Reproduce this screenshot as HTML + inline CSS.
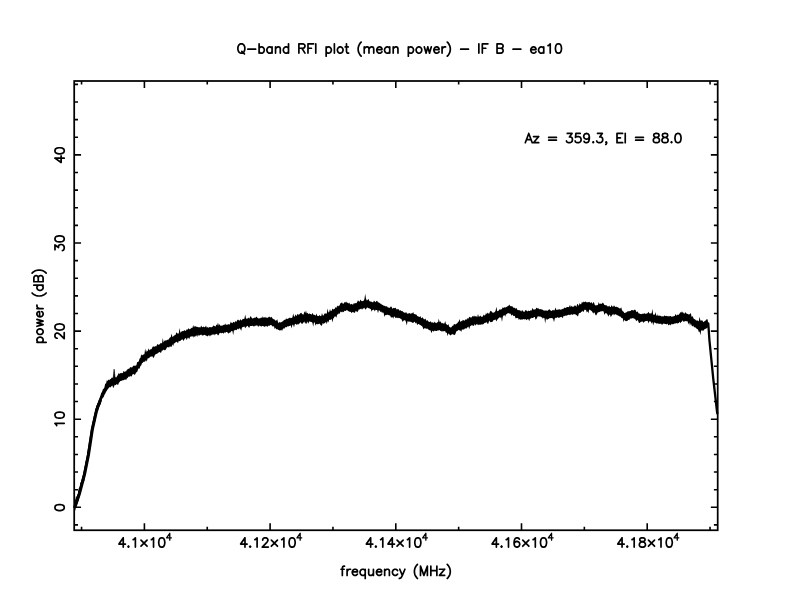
<!DOCTYPE html>
<html><head><meta charset="utf-8"><style>
html,body{margin:0;padding:0;background:#fff;}
svg{display:block;}
</style></head><body>
<svg width="792" height="612" viewBox="0 0 792 612">
<rect width="792" height="612" fill="#fff"/>
<g fill="none" stroke="#000" stroke-width="1.7" stroke-linecap="round" stroke-linejoin="round">
<path transform="translate(236.60,53.10) scale(1,1.0171)" d="M3.89 -9.08 3.03 -8.65 2.16 -7.79 1.73 -6.92 1.30 -5.62 1.30 -3.46 1.73 -2.16 2.16 -1.30 3.03 -0.43 3.89 0.00 5.62 0.00 6.49 -0.43 7.35 -1.30 7.79 -2.16 8.22 -3.46 8.22 -5.62 7.79 -6.92 7.35 -7.79 6.49 -8.65 5.62 -9.08 3.89 -9.08M5.19 -1.73 7.79 0.87M11.25 -3.89 19.03 -3.89M22.50 -9.08 22.50 0.00M22.50 -4.76 23.36 -5.62 24.23 -6.06 25.52 -6.06 26.39 -5.62 27.25 -4.76 27.69 -3.46 27.69 -2.60 27.25 -1.30 26.39 -0.43 25.52 0.00 24.23 0.00 23.36 -0.43 22.50 -1.30M35.47 -6.06 35.47 0.00M35.47 -4.76 34.61 -5.62 33.74 -6.06 32.45 -6.06 31.58 -5.62 30.71 -4.76 30.28 -3.46 30.28 -2.60 30.71 -1.30 31.58 -0.43 32.45 0.00 33.74 0.00 34.61 -0.43 35.47 -1.30M38.93 -6.06 38.93 0.00M38.93 -4.33 40.23 -5.62 41.10 -6.06 42.39 -6.06 43.26 -5.62 43.69 -4.33 43.69 0.00M51.91 -9.08 51.91 0.00M51.91 -4.76 51.05 -5.62 50.18 -6.06 48.88 -6.06 48.02 -5.62 47.15 -4.76 46.72 -3.46 46.72 -2.60 47.15 -1.30 48.02 -0.43 48.88 0.00 50.18 0.00 51.05 -0.43 51.91 -1.30M62.29 -9.08 62.29 0.00M62.29 -9.08 66.19 -9.08 67.49 -8.65 67.92 -8.22 68.35 -7.35 68.35 -6.49 67.92 -5.62 67.49 -5.19 66.19 -4.76 62.29 -4.76M65.32 -4.76 68.35 0.00M71.38 -9.08 71.38 0.00M71.38 -9.08 77.00 -9.08M71.38 -4.76 74.84 -4.76M79.17 -9.08 79.17 0.00M89.55 -6.06 89.55 3.03M89.55 -4.76 90.41 -5.62 91.28 -6.06 92.58 -6.06 93.44 -5.62 94.31 -4.76 94.74 -3.46 94.74 -2.60 94.31 -1.30 93.44 -0.43 92.58 0.00 91.28 0.00 90.41 -0.43 89.55 -1.30M97.77 -9.08 97.77 0.00M102.96 -6.06 102.09 -5.62 101.23 -4.76 100.80 -3.46 100.80 -2.60 101.23 -1.30 102.09 -0.43 102.96 0.00 104.26 0.00 105.12 -0.43 105.99 -1.30 106.42 -2.60 106.42 -3.46 105.99 -4.76 105.12 -5.62 104.26 -6.06 102.96 -6.06M109.88 -9.08 109.88 -1.73 110.31 -0.43 111.18 0.00 112.04 0.00M108.58 -6.06 111.61 -6.06M124.59 -10.81 123.72 -9.95 122.86 -8.65 121.99 -6.92 121.56 -4.76 121.56 -3.03 121.99 -0.87 122.86 0.87 123.72 2.16 124.59 3.03M127.62 -6.06 127.62 0.00M127.62 -4.33 128.91 -5.62 129.78 -6.06 131.08 -6.06 131.94 -5.62 132.38 -4.33 132.38 0.00M132.38 -4.33 133.67 -5.62 134.54 -6.06 135.84 -6.06 136.70 -5.62 137.13 -4.33 137.13 0.00M140.16 -3.46 145.35 -3.46 145.35 -4.33 144.92 -5.19 144.49 -5.62 143.62 -6.06 142.33 -6.06 141.46 -5.62 140.59 -4.76 140.16 -3.46 140.16 -2.60 140.59 -1.30 141.46 -0.43 142.33 0.00 143.62 0.00 144.49 -0.43 145.35 -1.30M153.14 -6.06 153.14 0.00M153.14 -4.76 152.28 -5.62 151.41 -6.06 150.11 -6.06 149.25 -5.62 148.38 -4.76 147.95 -3.46 147.95 -2.60 148.38 -1.30 149.25 -0.43 150.11 0.00 151.41 0.00 152.28 -0.43 153.14 -1.30M156.60 -6.06 156.60 0.00M156.60 -4.33 157.90 -5.62 158.76 -6.06 160.06 -6.06 160.93 -5.62 161.36 -4.33 161.36 0.00M171.74 -6.06 171.74 3.03M171.74 -4.76 172.61 -5.62 173.47 -6.06 174.77 -6.06 175.64 -5.62 176.50 -4.76 176.93 -3.46 176.93 -2.60 176.50 -1.30 175.64 -0.43 174.77 0.00 173.47 0.00 172.61 -0.43 171.74 -1.30M181.69 -6.06 180.83 -5.62 179.96 -4.76 179.53 -3.46 179.53 -2.60 179.96 -1.30 180.83 -0.43 181.69 0.00 182.99 0.00 183.85 -0.43 184.72 -1.30 185.15 -2.60 185.15 -3.46 184.72 -4.76 183.85 -5.62 182.99 -6.06 181.69 -6.06M187.75 -6.06 189.48 0.00M191.21 -6.06 189.48 0.00M191.21 -6.06 192.94 0.00M194.67 -6.06 192.94 0.00M197.27 -3.46 202.46 -3.46 202.46 -4.33 202.02 -5.19 201.59 -5.62 200.73 -6.06 199.43 -6.06 198.56 -5.62 197.70 -4.76 197.27 -3.46 197.27 -2.60 197.70 -1.30 198.56 -0.43 199.43 0.00 200.73 0.00 201.59 -0.43 202.46 -1.30M205.48 -6.06 205.48 0.00M205.48 -3.46 205.92 -4.76 206.78 -5.62 207.65 -6.06 208.95 -6.06M210.68 -10.81 211.54 -9.95 212.41 -8.65 213.27 -6.92 213.70 -4.76 213.70 -3.03 213.27 -0.87 212.41 0.87 211.54 2.16 210.68 3.03M224.09 -3.89 231.87 -3.89M242.26 -9.08 242.26 0.00M245.72 -9.08 245.72 0.00M245.72 -9.08 251.34 -9.08M245.72 -4.76 249.18 -4.76M260.43 -9.08 260.43 0.00M260.43 -9.08 264.32 -9.08 265.62 -8.65 266.05 -8.22 266.48 -7.35 266.48 -6.49 266.05 -5.62 265.62 -5.19 264.32 -4.76M260.43 -4.76 264.32 -4.76 265.62 -4.33 266.05 -3.89 266.48 -3.03 266.48 -1.73 266.05 -0.87 265.62 -0.43 264.32 0.00 260.43 0.00M276.43 -3.89 284.22 -3.89M294.17 -3.46 299.36 -3.46 299.36 -4.33 298.93 -5.19 298.49 -5.62 297.63 -6.06 296.33 -6.06 295.47 -5.62 294.60 -4.76 294.17 -3.46 294.17 -2.60 294.60 -1.30 295.47 -0.43 296.33 0.00 297.63 0.00 298.49 -0.43 299.36 -1.30M307.15 -6.06 307.15 0.00M307.15 -4.76 306.28 -5.62 305.42 -6.06 304.12 -6.06 303.25 -5.62 302.39 -4.76 301.95 -3.46 301.95 -2.60 302.39 -1.30 303.25 -0.43 304.12 0.00 305.42 0.00 306.28 -0.43 307.15 -1.30M311.47 -7.35 312.34 -7.79 313.63 -9.08 313.63 0.00M321.42 -9.08 320.12 -8.65 319.26 -7.35 318.83 -5.19 318.83 -3.89 319.26 -1.73 320.12 -0.43 321.42 0.00 322.29 0.00 323.58 -0.43 324.45 -1.73 324.88 -3.89 324.88 -5.19 324.45 -7.35 323.58 -8.65 322.29 -9.08 321.42 -9.08"/>
<path transform="translate(524.87,142.70) scale(1,1.0171)" d="M3.89 -9.08 0.43 0.00M3.89 -9.08 7.35 0.00M1.73 -3.03 6.06 -3.03M13.84 -6.06 8.65 0.00M8.65 -6.06 13.84 -6.06M8.65 0.00 13.84 0.00M23.79 -5.19 31.58 -5.19M23.79 -2.60 31.58 -2.60M42.39 -9.08 47.15 -9.08 44.56 -5.62 45.86 -5.62 46.72 -5.19 47.15 -4.76 47.59 -3.46 47.59 -2.60 47.15 -1.30 46.29 -0.43 44.99 0.00 43.69 0.00 42.39 -0.43 41.96 -0.87 41.53 -1.73M55.37 -9.08 51.05 -9.08 50.61 -5.19 51.05 -5.62 52.34 -6.06 53.64 -6.06 54.94 -5.62 55.81 -4.76 56.24 -3.46 56.24 -2.60 55.81 -1.30 54.94 -0.43 53.64 0.00 52.34 0.00 51.05 -0.43 50.61 -0.87 50.18 -1.73M64.46 -6.06 64.02 -4.76 63.16 -3.89 61.86 -3.46 61.43 -3.46 60.13 -3.89 59.27 -4.76 58.83 -6.06 58.83 -6.49 59.27 -7.79 60.13 -8.65 61.43 -9.08 61.86 -9.08 63.16 -8.65 64.02 -7.79 64.46 -6.06 64.46 -3.89 64.02 -1.73 63.16 -0.43 61.86 0.00 61.00 0.00 59.70 -0.43 59.27 -1.30M68.35 -0.87 67.92 -0.43 68.35 0.00 68.78 -0.43 68.35 -0.87M72.68 -9.08 77.44 -9.08 74.84 -5.62 76.14 -5.62 77.00 -5.19 77.44 -4.76 77.87 -3.46 77.87 -2.60 77.44 -1.30 76.57 -0.43 75.27 0.00 73.97 0.00 72.68 -0.43 72.24 -0.87 71.81 -1.73M81.76 -0.43 81.33 0.00 80.90 -0.43 81.33 -0.87 81.76 -0.43 81.76 0.43 81.33 1.30 80.90 1.73M92.14 -9.08 92.14 0.00M92.14 -9.08 97.77 -9.08M92.14 -4.76 95.60 -4.76M92.14 0.00 97.77 0.00M100.36 -9.08 100.36 0.00M110.75 -5.19 118.53 -5.19M110.75 -2.60 118.53 -2.60M130.65 -9.08 129.35 -8.65 128.91 -7.79 128.91 -6.92 129.35 -6.06 130.21 -5.62 131.94 -5.19 133.24 -4.76 134.11 -3.89 134.54 -3.03 134.54 -1.73 134.11 -0.87 133.67 -0.43 132.38 0.00 130.65 0.00 129.35 -0.43 128.91 -0.87 128.48 -1.73 128.48 -3.03 128.91 -3.89 129.78 -4.76 131.08 -5.19 132.81 -5.62 133.67 -6.06 134.11 -6.92 134.11 -7.79 133.67 -8.65 132.38 -9.08 130.65 -9.08M139.30 -9.08 138.00 -8.65 137.57 -7.79 137.57 -6.92 138.00 -6.06 138.86 -5.62 140.59 -5.19 141.89 -4.76 142.76 -3.89 143.19 -3.03 143.19 -1.73 142.76 -0.87 142.33 -0.43 141.03 0.00 139.30 0.00 138.00 -0.43 137.57 -0.87 137.13 -1.73 137.13 -3.03 137.57 -3.89 138.43 -4.76 139.73 -5.19 141.46 -5.62 142.33 -6.06 142.76 -6.92 142.76 -7.79 142.33 -8.65 141.03 -9.08 139.30 -9.08M146.65 -0.87 146.22 -0.43 146.65 0.00 147.08 -0.43 146.65 -0.87M152.71 -9.08 151.41 -8.65 150.54 -7.35 150.11 -5.19 150.11 -3.89 150.54 -1.73 151.41 -0.43 152.71 0.00 153.57 0.00 154.87 -0.43 155.74 -1.73 156.17 -3.89 156.17 -5.19 155.74 -7.35 154.87 -8.65 153.57 -9.08 152.71 -9.08"/>
<path transform="translate(340.18,575.40) scale(1,1.0171)" d="M4.32 -9.07 3.45 -9.07 2.59 -8.63 2.16 -7.34 2.16 0.00M0.86 -6.04 3.89 -6.04M6.91 -6.04 6.91 0.00M6.91 -3.45 7.34 -4.75 8.20 -5.61 9.07 -6.04 10.36 -6.04M12.09 -3.45 17.27 -3.45 17.27 -4.32 16.84 -5.18 16.40 -5.61 15.54 -6.04 14.25 -6.04 13.38 -5.61 12.52 -4.75 12.09 -3.45 12.09 -2.59 12.52 -1.30 13.38 -0.43 14.25 0.00 15.54 0.00 16.40 -0.43 17.27 -1.30M25.04 -6.04 25.04 3.02M25.04 -4.75 24.18 -5.61 23.31 -6.04 22.02 -6.04 21.15 -5.61 20.29 -4.75 19.86 -3.45 19.86 -2.59 20.29 -1.30 21.15 -0.43 22.02 0.00 23.31 0.00 24.18 -0.43 25.04 -1.30M28.49 -6.04 28.49 -1.73 28.92 -0.43 29.79 0.00 31.08 0.00 31.95 -0.43 33.24 -1.73M33.24 -6.04 33.24 0.00M36.26 -3.45 41.44 -3.45 41.44 -4.32 41.01 -5.18 40.58 -5.61 39.72 -6.04 38.42 -6.04 37.56 -5.61 36.69 -4.75 36.26 -3.45 36.26 -2.59 36.69 -1.30 37.56 -0.43 38.42 0.00 39.72 0.00 40.58 -0.43 41.44 -1.30M44.47 -6.04 44.47 0.00M44.47 -4.32 45.76 -5.61 46.62 -6.04 47.92 -6.04 48.78 -5.61 49.21 -4.32 49.21 0.00M57.42 -4.75 56.55 -5.61 55.69 -6.04 54.39 -6.04 53.53 -5.61 52.67 -4.75 52.24 -3.45 52.24 -2.59 52.67 -1.30 53.53 -0.43 54.39 0.00 55.69 0.00 56.55 -0.43 57.42 -1.30M59.57 -6.04 62.16 0.00M64.75 -6.04 62.16 0.00 61.30 1.73 60.44 2.59 59.57 3.02 59.14 3.02M77.27 -10.79 76.41 -9.93 75.55 -8.63 74.68 -6.91 74.25 -4.75 74.25 -3.02 74.68 -0.86 75.55 0.86 76.41 2.16 77.27 3.02M80.30 -9.07 80.30 0.00M80.30 -9.07 83.75 0.00M87.20 -9.07 83.75 0.00M87.20 -9.07 87.20 0.00M90.66 -9.07 90.66 0.00M96.70 -9.07 96.70 0.00M90.66 -4.75 96.70 -4.75M104.47 -6.04 99.29 0.00M99.29 -6.04 104.47 -6.04M99.29 0.00 104.47 0.00M107.06 -10.79 107.92 -9.93 108.79 -8.63 109.65 -6.91 110.08 -4.75 110.08 -3.02 109.65 -0.86 108.79 0.86 107.92 2.16 107.06 3.02"/>
<path transform="translate(43.1,344.03) rotate(-90) scale(1,1.0171)" d="M1.73 -6.06 1.73 3.03M1.73 -4.76 2.60 -5.62 3.46 -6.06 4.76 -6.06 5.62 -5.62 6.49 -4.76 6.92 -3.46 6.92 -2.60 6.49 -1.30 5.62 -0.43 4.76 0.00 3.46 0.00 2.60 -0.43 1.73 -1.30M11.68 -6.06 10.81 -5.62 9.95 -4.76 9.52 -3.46 9.52 -2.60 9.95 -1.30 10.81 -0.43 11.68 0.00 12.98 0.00 13.84 -0.43 14.71 -1.30 15.14 -2.60 15.14 -3.46 14.71 -4.76 13.84 -5.62 12.98 -6.06 11.68 -6.06M17.74 -6.06 19.47 0.00M21.20 -6.06 19.47 0.00M21.20 -6.06 22.93 0.00M24.66 -6.06 22.93 0.00M27.25 -3.46 32.45 -3.46 32.45 -4.33 32.01 -5.19 31.58 -5.62 30.71 -6.06 29.42 -6.06 28.55 -5.62 27.69 -4.76 27.25 -3.46 27.25 -2.60 27.69 -1.30 28.55 -0.43 29.42 0.00 30.71 0.00 31.58 -0.43 32.45 -1.30M35.47 -6.06 35.47 0.00M35.47 -3.46 35.91 -4.76 36.77 -5.62 37.64 -6.06 38.93 -6.06M51.05 -10.81 50.18 -9.95 49.32 -8.65 48.45 -6.92 48.02 -4.76 48.02 -3.03 48.45 -0.87 49.32 0.87 50.18 2.16 51.05 3.03M58.83 -9.08 58.83 0.00M58.83 -4.76 57.97 -5.62 57.10 -6.06 55.81 -6.06 54.94 -5.62 54.07 -4.76 53.64 -3.46 53.64 -2.60 54.07 -1.30 54.94 -0.43 55.81 0.00 57.10 0.00 57.97 -0.43 58.83 -1.30M62.29 -9.08 62.29 0.00M62.29 -9.08 66.19 -9.08 67.49 -8.65 67.92 -8.22 68.35 -7.35 68.35 -6.49 67.92 -5.62 67.49 -5.19 66.19 -4.76M62.29 -4.76 66.19 -4.76 67.49 -4.33 67.92 -3.89 68.35 -3.03 68.35 -1.73 67.92 -0.87 67.49 -0.43 66.19 0.00 62.29 0.00M70.95 -10.81 71.81 -9.95 72.68 -8.65 73.54 -6.92 73.97 -4.76 73.97 -3.03 73.54 -0.87 72.68 0.87 71.81 2.16 70.95 3.03"/>
<path transform="translate(64.2,511.88) rotate(-90) scale(1,1.0171)" d="M3.89 -9.08 2.60 -8.65 1.73 -7.35 1.30 -5.19 1.30 -3.89 1.73 -1.73 2.60 -0.43 3.89 0.00 4.76 0.00 6.06 -0.43 6.92 -1.73 7.35 -3.89 7.35 -5.19 6.92 -7.35 6.06 -8.65 4.76 -9.08 3.89 -9.08"/>
<path transform="translate(64.2,428.09) rotate(-90) scale(1,1.0171)" d="M2.60 -7.35 3.46 -7.79 4.76 -9.08 4.76 0.00M12.55 -9.08 11.25 -8.65 10.38 -7.35 9.95 -5.19 9.95 -3.89 10.38 -1.73 11.25 -0.43 12.55 0.00 13.41 0.00 14.71 -0.43 15.57 -1.73 16.01 -3.89 16.01 -5.19 15.57 -7.35 14.71 -8.65 13.41 -9.08 12.55 -9.08"/>
<path transform="translate(64.2,339.98) rotate(-90) scale(1,1.0171)" d="M1.73 -6.92 1.73 -7.35 2.16 -8.22 2.60 -8.65 3.46 -9.08 5.19 -9.08 6.06 -8.65 6.49 -8.22 6.92 -7.35 6.92 -6.49 6.49 -5.62 5.62 -4.33 1.30 0.00 7.35 0.00M12.55 -9.08 11.25 -8.65 10.38 -7.35 9.95 -5.19 9.95 -3.89 10.38 -1.73 11.25 -0.43 12.55 0.00 13.41 0.00 14.71 -0.43 15.57 -1.73 16.01 -3.89 16.01 -5.19 15.57 -7.35 14.71 -8.65 13.41 -9.08 12.55 -9.08"/>
<path transform="translate(64.2,251.87) rotate(-90) scale(1,1.0171)" d="M2.16 -9.08 6.92 -9.08 4.33 -5.62 5.62 -5.62 6.49 -5.19 6.92 -4.76 7.35 -3.46 7.35 -2.60 6.92 -1.30 6.06 -0.43 4.76 0.00 3.46 0.00 2.16 -0.43 1.73 -0.87 1.30 -1.73M12.55 -9.08 11.25 -8.65 10.38 -7.35 9.95 -5.19 9.95 -3.89 10.38 -1.73 11.25 -0.43 12.55 0.00 13.41 0.00 14.71 -0.43 15.57 -1.73 16.01 -3.89 16.01 -5.19 15.57 -7.35 14.71 -8.65 13.41 -9.08 12.55 -9.08"/>
<path transform="translate(64.2,163.76) rotate(-90) scale(1,1.0171)" d="M5.62 -9.08 1.30 -3.03 7.79 -3.03M5.62 -9.08 5.62 0.00M12.55 -9.08 11.25 -8.65 10.38 -7.35 9.95 -5.19 9.95 -3.89 10.38 -1.73 11.25 -0.43 12.55 0.00 13.41 0.00 14.71 -0.43 15.57 -1.73 16.01 -3.89 16.01 -5.19 15.57 -7.35 14.71 -8.65 13.41 -9.08 12.55 -9.08"/>
<path transform="translate(117.63,547.10) scale(1,1.0171)" d="M5.62 -9.08 1.30 -3.03 7.79 -3.03M5.62 -9.08 5.62 0.00M10.81 -0.87 10.38 -0.43 10.81 0.00 11.25 -0.43 10.81 -0.87M15.57 -7.35 16.44 -7.79 17.74 -9.08 17.74 0.00M23.36 -6.92 29.42 -0.87M29.42 -6.92 23.36 -0.87M33.74 -7.35 34.61 -7.79 35.91 -9.08 35.91 0.00M43.69 -9.08 42.39 -8.65 41.53 -7.35 41.10 -5.19 41.10 -3.89 41.53 -1.73 42.39 -0.43 43.69 0.00 44.56 0.00 45.86 -0.43 46.72 -1.73 47.15 -3.89 47.15 -5.19 46.72 -7.35 45.86 -8.65 44.56 -9.08 43.69 -9.08"/>
<path transform="translate(165.62,540.15) scale(1,1.0171)" stroke-width="1.3" d="M4.16 -6.72 0.96 -2.24 5.76 -2.24M4.16 -6.72 4.16 0.00"/>
<path transform="translate(239.35,547.10) scale(1,1.0171)" d="M5.62 -9.08 1.30 -3.03 7.79 -3.03M5.62 -9.08 5.62 0.00M10.81 -0.87 10.38 -0.43 10.81 0.00 11.25 -0.43 10.81 -0.87M15.57 -7.35 16.44 -7.79 17.74 -9.08 17.74 0.00M23.36 -6.92 23.36 -7.35 23.79 -8.22 24.23 -8.65 25.09 -9.08 26.82 -9.08 27.69 -8.65 28.12 -8.22 28.55 -7.35 28.55 -6.49 28.12 -5.62 27.25 -4.33 22.93 0.00 28.98 0.00M32.01 -6.92 38.07 -0.87M38.07 -6.92 32.01 -0.87M42.39 -7.35 43.26 -7.79 44.56 -9.08 44.56 0.00M52.34 -9.08 51.05 -8.65 50.18 -7.35 49.75 -5.19 49.75 -3.89 50.18 -1.73 51.05 -0.43 52.34 0.00 53.21 0.00 54.51 -0.43 55.37 -1.73 55.81 -3.89 55.81 -5.19 55.37 -7.35 54.51 -8.65 53.21 -9.08 52.34 -9.08"/>
<path transform="translate(296.00,540.15) scale(1,1.0171)" stroke-width="1.3" d="M4.16 -6.72 0.96 -2.24 5.76 -2.24M4.16 -6.72 4.16 0.00"/>
<path transform="translate(365.05,547.10) scale(1,1.0171)" d="M5.62 -9.08 1.30 -3.03 7.79 -3.03M5.62 -9.08 5.62 0.00M10.81 -0.87 10.38 -0.43 10.81 0.00 11.25 -0.43 10.81 -0.87M15.57 -7.35 16.44 -7.79 17.74 -9.08 17.74 0.00M27.25 -9.08 22.93 -3.03 29.42 -3.03M27.25 -9.08 27.25 0.00M32.01 -6.92 38.07 -0.87M38.07 -6.92 32.01 -0.87M42.39 -7.35 43.26 -7.79 44.56 -9.08 44.56 0.00M52.34 -9.08 51.05 -8.65 50.18 -7.35 49.75 -5.19 49.75 -3.89 50.18 -1.73 51.05 -0.43 52.34 0.00 53.21 0.00 54.51 -0.43 55.37 -1.73 55.81 -3.89 55.81 -5.19 55.37 -7.35 54.51 -8.65 53.21 -9.08 52.34 -9.08"/>
<path transform="translate(421.70,540.15) scale(1,1.0171)" stroke-width="1.3" d="M4.16 -6.72 0.96 -2.24 5.76 -2.24M4.16 -6.72 4.16 0.00"/>
<path transform="translate(490.75,547.10) scale(1,1.0171)" d="M5.62 -9.08 1.30 -3.03 7.79 -3.03M5.62 -9.08 5.62 0.00M10.81 -0.87 10.38 -0.43 10.81 0.00 11.25 -0.43 10.81 -0.87M15.57 -7.35 16.44 -7.79 17.74 -9.08 17.74 0.00M28.55 -7.79 28.12 -8.65 26.82 -9.08 25.96 -9.08 24.66 -8.65 23.79 -7.35 23.36 -5.19 23.36 -3.03 23.79 -1.30 24.66 -0.43 25.96 0.00 26.39 0.00 27.69 -0.43 28.55 -1.30 28.98 -2.60 28.98 -3.03 28.55 -4.33 27.69 -5.19 26.39 -5.62 25.96 -5.62 24.66 -5.19 23.79 -4.33 23.36 -3.03M32.01 -6.92 38.07 -0.87M38.07 -6.92 32.01 -0.87M42.39 -7.35 43.26 -7.79 44.56 -9.08 44.56 0.00M52.34 -9.08 51.05 -8.65 50.18 -7.35 49.75 -5.19 49.75 -3.89 50.18 -1.73 51.05 -0.43 52.34 0.00 53.21 0.00 54.51 -0.43 55.37 -1.73 55.81 -3.89 55.81 -5.19 55.37 -7.35 54.51 -8.65 53.21 -9.08 52.34 -9.08"/>
<path transform="translate(547.40,540.15) scale(1,1.0171)" stroke-width="1.3" d="M4.16 -6.72 0.96 -2.24 5.76 -2.24M4.16 -6.72 4.16 0.00"/>
<path transform="translate(616.45,547.10) scale(1,1.0171)" d="M5.62 -9.08 1.30 -3.03 7.79 -3.03M5.62 -9.08 5.62 0.00M10.81 -0.87 10.38 -0.43 10.81 0.00 11.25 -0.43 10.81 -0.87M15.57 -7.35 16.44 -7.79 17.74 -9.08 17.74 0.00M25.09 -9.08 23.79 -8.65 23.36 -7.79 23.36 -6.92 23.79 -6.06 24.66 -5.62 26.39 -5.19 27.69 -4.76 28.55 -3.89 28.98 -3.03 28.98 -1.73 28.55 -0.87 28.12 -0.43 26.82 0.00 25.09 0.00 23.79 -0.43 23.36 -0.87 22.93 -1.73 22.93 -3.03 23.36 -3.89 24.23 -4.76 25.52 -5.19 27.25 -5.62 28.12 -6.06 28.55 -6.92 28.55 -7.79 28.12 -8.65 26.82 -9.08 25.09 -9.08M32.01 -6.92 38.07 -0.87M38.07 -6.92 32.01 -0.87M42.39 -7.35 43.26 -7.79 44.56 -9.08 44.56 0.00M52.34 -9.08 51.05 -8.65 50.18 -7.35 49.75 -5.19 49.75 -3.89 50.18 -1.73 51.05 -0.43 52.34 0.00 53.21 0.00 54.51 -0.43 55.37 -1.73 55.81 -3.89 55.81 -5.19 55.37 -7.35 54.51 -8.65 53.21 -9.08 52.34 -9.08"/>
<path transform="translate(673.10,540.15) scale(1,1.0171)" stroke-width="1.3" d="M4.16 -6.72 0.96 -2.24 5.76 -2.24M4.16 -6.72 4.16 0.00"/>
</g>
<rect x="74.2" y="81.0" width="643.50" height="449.25" fill="none" stroke="#000" stroke-width="1.75"/>
<path d="M74.2,524.92h3.8M717.7,524.92h-3.8M74.2,507.30h6.85M717.7,507.30h-6.85M74.2,489.68h3.8M717.7,489.68h-3.8M74.2,472.06h3.8M717.7,472.06h-3.8M74.2,454.43h3.8M717.7,454.43h-3.8M74.2,436.81h3.8M717.7,436.81h-3.8M74.2,419.19h6.85M717.7,419.19h-6.85M74.2,401.57h3.8M717.7,401.57h-3.8M74.2,383.95h3.8M717.7,383.95h-3.8M74.2,366.32h3.8M717.7,366.32h-3.8M74.2,348.70h3.8M717.7,348.70h-3.8M74.2,331.08h6.85M717.7,331.08h-6.85M74.2,313.46h3.8M717.7,313.46h-3.8M74.2,295.84h3.8M717.7,295.84h-3.8M74.2,278.21h3.8M717.7,278.21h-3.8M74.2,260.59h3.8M717.7,260.59h-3.8M74.2,242.97h6.85M717.7,242.97h-6.85M74.2,225.35h3.8M717.7,225.35h-3.8M74.2,207.73h3.8M717.7,207.73h-3.8M74.2,190.10h3.8M717.7,190.10h-3.8M74.2,172.48h3.8M717.7,172.48h-3.8M74.2,154.86h6.85M717.7,154.86h-6.85M74.2,137.24h3.8M717.7,137.24h-3.8M74.2,119.62h3.8M717.7,119.62h-3.8M74.2,101.99h3.8M717.7,101.99h-3.8M74.2,84.37h3.8M717.7,84.37h-3.8M81.55,530.25v-3.5M81.55,81.0v3.5M144.40,530.25v-7.0M144.40,81.0v7.0M207.25,530.25v-3.5M207.25,81.0v3.5M270.10,530.25v-7.0M270.10,81.0v7.0M332.95,530.25v-3.5M332.95,81.0v3.5M395.80,530.25v-7.0M395.80,81.0v7.0M458.65,530.25v-3.5M458.65,81.0v3.5M521.50,530.25v-7.0M521.50,81.0v7.0M584.35,530.25v-3.5M584.35,81.0v3.5M647.20,530.25v-7.0M647.20,81.0v7.0M710.05,530.25v-3.5M710.05,81.0v3.5" stroke="#000" stroke-width="1.6" fill="none"/>
<polygon points="74.8,503.43 75.6,500.55 76.4,498.42 77.2,495.54 78.0,493.62 78.8,488.03 79.6,488.35 80.4,482.71 81.2,481.85 82.0,479.12 82.8,475.91 83.6,473.14 84.4,469.34 85.2,465.18 86.0,460.40 86.8,457.95 87.6,451.58 88.4,449.98 89.2,445.53 90.0,440.08 90.8,435.46 91.6,430.04 92.4,423.57 93.2,420.37 94.0,415.45 94.8,413.52 95.6,409.91 96.4,405.72 97.2,404.14 98.0,402.61 98.8,400.34 99.6,397.65 100.4,396.00 101.2,393.03 102.0,392.11 102.8,389.50 103.6,388.83 104.4,387.44 105.2,383.57 106.0,383.87 106.8,380.32 107.6,381.05 108.4,379.40 109.2,380.20 110.0,379.21 110.8,379.00 111.6,377.86 112.4,377.51 113.2,378.28 114.0,377.76 114.8,376.84 115.6,377.51 116.4,377.21 117.2,376.09 118.0,374.42 118.8,372.92 119.6,374.09 120.4,373.01 121.2,373.24 122.0,372.78 122.8,373.24 123.6,370.72 124.4,371.96 125.2,371.36 126.0,371.55 126.8,369.94 127.6,369.35 128.4,368.78 129.2,368.81 130.0,367.62 130.8,366.98 131.6,367.42 132.4,367.26 133.2,365.54 134.0,366.08 134.8,365.56 135.6,365.73 136.4,365.17 137.2,362.07 138.0,361.93 138.8,361.21 139.6,358.59 140.4,357.99 141.2,354.27 142.0,355.51 142.8,354.70 143.6,354.53 144.4,354.25 145.2,348.47 146.0,352.46 146.8,350.26 147.6,351.41 148.4,348.27 149.2,350.39 150.0,349.18 150.8,349.51 151.6,349.02 152.4,347.29 153.2,345.88 154.0,347.36 154.8,346.22 155.6,346.17 156.4,346.35 157.2,344.24 158.0,344.14 158.8,345.08 159.6,344.24 160.4,343.36 161.2,342.88 162.0,343.41 162.8,337.99 163.6,342.53 164.4,340.72 165.2,340.36 166.0,340.82 166.8,339.97 167.6,339.77 168.4,339.63 169.2,338.39 170.0,337.54 170.8,337.10 171.6,333.47 172.4,337.06 173.2,336.55 174.0,335.58 174.8,335.35 175.6,334.64 176.4,332.20 177.2,333.27 178.0,333.66 178.8,333.21 179.6,328.05 180.4,332.77 181.2,331.91 182.0,330.88 182.8,331.17 183.6,330.88 184.4,330.12 185.2,331.11 186.0,330.43 186.8,329.36 187.6,329.68 188.4,327.88 189.2,329.53 190.0,328.78 190.8,328.63 191.6,327.65 192.4,328.10 193.2,325.00 194.0,327.46 194.8,325.65 195.6,326.47 196.4,326.86 197.2,326.69 198.0,327.16 198.8,327.30 199.6,327.26 200.4,327.44 201.2,325.39 202.0,327.02 202.8,327.37 203.6,326.44 204.4,327.22 205.2,326.90 206.0,325.48 206.8,327.64 207.6,327.06 208.4,327.70 209.2,327.29 210.0,326.96 210.8,327.19 211.6,327.32 212.4,326.89 213.2,325.43 214.0,325.75 214.8,326.34 215.6,326.54 216.4,324.52 217.2,325.17 218.0,322.58 218.8,325.72 219.6,323.96 220.4,325.83 221.2,325.69 222.0,325.56 222.8,325.39 223.6,324.87 224.4,325.11 225.2,323.62 226.0,324.98 226.8,324.45 227.6,324.64 228.4,323.96 229.2,324.65 230.0,324.08 230.8,321.54 231.6,322.91 232.4,323.31 233.2,321.83 234.0,322.37 234.8,322.56 235.6,320.76 236.4,322.03 237.2,320.26 238.0,319.58 238.8,320.29 239.6,320.67 240.4,318.89 241.2,320.45 242.0,319.91 242.8,318.81 243.6,318.95 244.4,318.87 245.2,314.62 246.0,318.48 246.8,318.84 247.6,318.38 248.4,317.48 249.2,318.68 250.0,317.31 250.8,315.99 251.6,317.78 252.4,318.43 253.2,318.16 254.0,317.94 254.8,317.62 255.6,317.86 256.4,316.59 257.2,317.52 258.0,318.22 258.8,318.48 259.6,318.29 260.4,318.33 261.2,317.21 262.0,318.31 262.8,316.35 263.6,317.70 264.4,317.38 265.2,316.87 266.0,318.28 266.8,317.31 267.6,317.97 268.4,317.15 269.2,316.38 270.0,317.29 270.8,317.40 271.6,316.84 272.4,318.14 273.2,318.98 274.0,319.29 274.8,319.67 275.6,320.68 276.4,320.48 277.2,319.24 278.0,322.11 278.8,323.14 279.6,321.78 280.4,322.48 281.2,322.18 282.0,321.70 282.8,321.37 283.6,320.51 284.4,319.76 285.2,319.88 286.0,318.53 286.8,318.85 287.6,319.02 288.4,318.45 289.2,317.57 290.0,318.29 290.8,317.79 291.6,317.92 292.4,317.55 293.2,313.42 294.0,316.48 294.8,316.39 295.6,314.31 296.4,316.37 297.2,314.41 298.0,313.75 298.8,315.33 299.6,313.99 300.4,313.20 301.2,312.71 302.0,313.66 302.8,314.55 303.6,314.49 304.4,311.31 305.2,312.92 306.0,310.44 306.8,313.59 307.6,312.85 308.4,314.31 309.2,313.15 310.0,314.06 310.8,313.97 311.6,314.72 312.4,312.79 313.2,314.51 314.0,314.87 314.8,315.06 315.6,315.83 316.4,313.38 317.2,315.70 318.0,316.06 318.8,316.11 319.6,314.89 320.4,316.02 321.2,316.31 322.0,313.02 322.8,315.45 323.6,315.38 324.4,313.82 325.2,313.28 326.0,313.76 326.8,313.53 327.6,308.57 328.4,312.61 329.2,312.06 330.0,309.11 330.8,311.21 331.6,310.86 332.4,308.62 333.2,309.59 334.0,308.92 334.8,308.80 335.6,307.02 336.4,307.89 337.2,305.62 338.0,306.53 338.8,305.81 339.6,305.48 340.4,303.22 341.2,303.08 342.0,302.32 342.8,303.84 343.6,303.69 344.4,301.92 345.2,302.82 346.0,301.43 346.8,302.46 347.6,302.76 348.4,303.56 349.2,302.45 350.0,303.89 350.8,304.49 351.6,303.79 352.4,304.53 353.2,304.45 354.0,302.75 354.8,303.81 355.6,302.98 356.4,303.25 357.2,301.94 358.0,300.33 358.8,301.16 359.6,301.73 360.4,299.59 361.2,300.70 362.0,301.27 362.8,301.02 363.6,300.85 364.4,299.24 365.2,293.69 366.0,298.72 366.8,300.45 367.6,299.96 368.4,298.77 369.2,300.66 370.0,301.49 370.8,301.47 371.6,301.72 372.4,302.13 373.2,302.16 374.0,300.55 374.8,301.49 375.6,302.14 376.4,300.91 377.2,300.82 378.0,302.51 378.8,302.27 379.6,303.10 380.4,303.74 381.2,303.80 382.0,304.88 382.8,304.78 383.6,305.82 384.4,305.86 385.2,306.08 386.0,306.86 386.8,305.89 387.6,307.24 388.4,307.44 389.2,308.07 390.0,307.62 390.8,306.41 391.6,306.84 392.4,309.00 393.2,307.66 394.0,308.27 394.8,307.93 395.6,307.72 396.4,309.17 397.2,309.61 398.0,308.82 398.8,309.56 399.6,310.70 400.4,310.09 401.2,311.13 402.0,310.67 402.8,311.54 403.6,312.16 404.4,312.45 405.2,313.18 406.0,311.69 406.8,313.29 407.6,313.74 408.4,313.53 409.2,312.90 410.0,313.46 410.8,313.81 411.6,313.16 412.4,313.36 413.2,311.99 414.0,314.32 414.8,313.92 415.6,314.46 416.4,314.51 417.2,316.10 418.0,316.25 418.8,316.86 419.6,316.98 420.4,315.95 421.2,318.22 422.0,317.79 422.8,317.23 423.6,318.97 424.4,319.52 425.2,318.38 426.0,319.71 426.8,320.97 427.6,320.08 428.4,321.50 429.2,321.91 430.0,321.63 430.8,321.37 431.6,322.67 432.4,322.24 433.2,322.66 434.0,322.77 434.8,321.51 435.6,323.11 436.4,323.17 437.2,322.08 438.0,322.39 438.8,318.58 439.6,322.25 440.4,321.22 441.2,322.85 442.0,323.57 442.8,322.75 443.6,323.67 444.4,323.56 445.2,321.09 446.0,323.96 446.8,324.54 447.6,325.20 448.4,324.07 449.2,326.81 450.0,327.01 450.8,327.63 451.6,326.98 452.4,325.83 453.2,325.87 454.0,323.98 454.8,324.25 455.6,324.43 456.4,323.74 457.2,323.26 458.0,322.33 458.8,321.28 459.6,319.00 460.4,322.15 461.2,320.71 462.0,321.57 462.8,319.75 463.6,320.25 464.4,320.63 465.2,320.03 466.0,318.75 466.8,319.95 467.6,318.07 468.4,318.74 469.2,316.79 470.0,317.33 470.8,317.62 471.6,317.59 472.4,316.21 473.2,315.70 474.0,316.98 474.8,315.38 475.6,316.60 476.4,316.35 477.2,317.19 478.0,314.12 478.8,316.84 479.6,316.52 480.4,315.51 481.2,316.83 482.0,316.83 482.8,316.40 483.6,314.48 484.4,315.44 485.2,315.13 486.0,313.02 486.8,314.29 487.6,312.62 488.4,313.50 489.2,313.64 490.0,311.50 490.8,310.73 491.6,311.62 492.4,312.53 493.2,312.82 494.0,312.46 494.8,312.08 495.6,310.71 496.4,306.71 497.2,311.28 498.0,310.92 498.8,310.57 499.6,309.34 500.4,309.57 501.2,309.40 502.0,308.87 502.8,307.14 503.6,308.12 504.4,307.19 505.2,307.61 506.0,307.15 506.8,306.72 507.6,306.30 508.4,305.93 509.2,304.43 510.0,305.82 510.8,306.20 511.6,306.35 512.4,306.15 513.2,307.66 514.0,307.38 514.8,308.09 515.6,308.65 516.4,307.73 517.2,309.73 518.0,309.88 518.8,310.37 519.6,310.19 520.4,310.43 521.2,311.73 522.0,310.12 522.8,310.86 523.6,311.77 524.4,311.96 525.2,310.16 526.0,310.37 526.8,310.76 527.6,311.53 528.4,310.50 529.2,310.96 530.0,311.09 530.8,310.06 531.6,310.77 532.4,307.70 533.2,309.41 534.0,309.55 534.8,309.47 535.6,309.28 536.4,307.87 537.2,308.00 538.0,308.68 538.8,308.19 539.6,309.42 540.4,309.12 541.2,309.39 542.0,309.33 542.8,309.89 543.6,310.39 544.4,310.46 545.2,310.63 546.0,310.14 546.8,310.81 547.6,310.83 548.4,309.99 549.2,309.34 550.0,309.74 550.8,310.79 551.6,311.00 552.4,310.23 553.2,309.87 554.0,310.78 554.8,309.78 555.6,307.62 556.4,310.11 557.2,309.87 558.0,309.38 558.8,309.39 559.6,309.25 560.4,309.70 561.2,309.41 562.0,309.23 562.8,308.82 563.6,308.85 564.4,307.59 565.2,307.90 566.0,307.80 566.8,306.97 567.6,307.10 568.4,307.19 569.2,306.64 570.0,304.83 570.8,307.15 571.6,305.66 572.4,306.71 573.2,306.85 574.0,306.55 574.8,305.17 575.6,305.85 576.4,306.99 577.2,303.77 578.0,304.59 578.8,305.91 579.6,302.90 580.4,304.33 581.2,304.32 582.0,301.47 582.8,302.94 583.6,301.62 584.4,302.19 585.2,301.38 586.0,301.83 586.8,302.54 587.6,302.27 588.4,302.26 589.2,301.82 590.0,302.43 590.8,302.98 591.6,301.98 592.4,303.92 593.2,302.14 594.0,302.46 594.8,304.97 595.6,305.46 596.4,305.15 597.2,305.19 598.0,304.86 598.8,302.05 599.6,304.32 600.4,303.46 601.2,304.12 602.0,303.50 602.8,302.48 603.6,303.61 604.4,305.06 605.2,304.99 606.0,305.57 606.8,305.34 607.6,306.54 608.4,306.60 609.2,305.52 610.0,306.90 610.8,306.96 611.6,304.90 612.4,306.49 613.2,306.64 614.0,305.26 614.8,306.50 615.6,307.02 616.4,306.86 617.2,307.08 618.0,307.59 618.8,307.82 619.6,308.45 620.4,308.59 621.2,307.19 622.0,310.24 622.8,311.19 623.6,311.66 624.4,312.96 625.2,313.06 626.0,312.17 626.8,312.24 627.6,311.32 628.4,311.30 629.2,311.31 630.0,310.90 630.8,310.81 631.6,309.99 632.4,310.09 633.2,310.78 634.0,309.69 634.8,309.70 635.6,309.94 636.4,312.35 637.2,311.15 638.0,312.20 638.8,313.38 639.6,313.55 640.4,313.90 641.2,314.27 642.0,313.71 642.8,313.79 643.6,313.71 644.4,313.14 645.2,313.80 646.0,313.66 646.8,313.51 647.6,313.31 648.4,311.79 649.2,312.88 650.0,313.85 650.8,313.28 651.6,313.40 652.4,308.63 653.2,315.01 654.0,314.19 654.8,314.88 655.6,312.08 656.4,316.19 657.2,314.31 658.0,316.14 658.8,315.30 659.6,315.80 660.4,315.71 661.2,316.24 662.0,316.38 662.8,316.24 663.6,316.44 664.4,315.28 665.2,316.24 666.0,315.64 666.8,315.90 667.6,316.36 668.4,316.33 669.2,316.62 670.0,315.68 670.8,316.26 671.6,316.64 672.4,316.59 673.2,316.52 674.0,316.08 674.8,315.89 675.6,313.87 676.4,315.78 677.2,314.85 678.0,314.72 678.8,314.63 679.6,313.39 680.4,312.59 681.2,311.49 682.0,313.08 682.8,311.44 683.6,313.18 684.4,313.72 685.2,312.13 686.0,312.64 686.8,314.06 687.6,313.73 688.4,314.62 689.2,314.26 690.0,314.18 690.8,312.70 691.6,316.96 692.4,316.12 693.2,317.51 694.0,319.26 694.8,318.98 695.6,320.05 696.4,320.87 697.2,320.00 698.0,321.33 698.8,320.98 699.6,316.67 700.4,320.53 701.2,320.64 702.0,320.10 702.8,321.18 703.6,322.29 704.4,321.31 705.2,320.85 706.0,320.32 706.8,319.12 707.6,319.43 708.4,324.30 709.2,337.00 710.0,346.03 710.8,354.07 711.6,362.11 712.4,370.15 713.2,378.19 714.0,385.04 714.8,391.91 715.6,398.68 716.4,405.73 717.2,412.62 717.2,413.36 716.4,406.35 715.6,399.49 714.8,392.57 714.0,385.48 713.2,378.19 712.4,370.15 711.6,362.11 710.8,354.07 710.0,346.03 709.2,337.00 708.4,325.83 707.6,327.76 706.8,328.19 706.0,328.62 705.2,329.01 704.4,329.15 703.6,330.87 702.8,330.24 702.0,330.92 701.2,329.91 700.4,335.21 699.6,331.47 698.8,332.12 698.0,329.51 697.2,329.11 696.4,328.46 695.6,327.62 694.8,327.14 694.0,327.20 693.2,325.52 692.4,326.52 691.6,325.48 690.8,323.18 690.0,325.76 689.2,322.21 688.4,324.48 687.6,321.30 686.8,321.36 686.0,321.22 685.2,320.98 684.4,321.39 683.6,321.97 682.8,320.29 682.0,321.39 681.2,322.00 680.4,323.29 679.6,321.83 678.8,323.05 678.0,323.33 677.2,323.38 676.4,323.05 675.6,323.55 674.8,323.58 674.0,323.81 673.2,324.18 672.4,324.34 671.6,323.84 670.8,325.43 670.0,324.47 669.2,324.76 668.4,325.47 667.6,323.52 666.8,324.50 666.0,323.95 665.2,324.03 664.4,323.68 663.6,323.51 662.8,323.89 662.0,325.12 661.2,323.78 660.4,323.79 659.6,323.63 658.8,323.93 658.0,323.23 657.2,323.52 656.4,323.47 655.6,322.99 654.8,322.60 654.0,322.59 653.2,325.58 652.4,321.63 651.6,323.81 650.8,321.42 650.0,321.54 649.2,321.26 648.4,323.58 647.6,320.79 646.8,321.02 646.0,321.03 645.2,321.35 644.4,321.81 643.6,323.04 642.8,321.25 642.0,321.93 641.2,321.49 640.4,322.29 639.6,323.12 638.8,322.82 638.0,320.44 637.2,319.95 636.4,321.25 635.6,320.01 634.8,318.54 634.0,319.20 633.2,317.80 632.4,318.20 631.6,318.58 630.8,318.42 630.0,318.84 629.2,320.19 628.4,319.72 627.6,320.84 626.8,320.99 626.0,321.14 625.2,320.74 624.4,319.84 623.6,322.31 622.8,318.59 622.0,317.91 621.2,317.86 620.4,316.58 619.6,316.61 618.8,315.64 618.0,315.65 617.2,314.91 616.4,314.69 615.6,314.29 614.8,314.33 614.0,315.38 613.2,313.70 612.4,314.71 611.6,315.69 610.8,317.29 610.0,314.64 609.2,314.67 608.4,316.83 607.6,314.70 606.8,313.45 606.0,313.14 605.2,313.25 604.4,315.04 603.6,311.61 602.8,310.98 602.0,311.50 601.2,311.35 600.4,311.58 599.6,312.06 598.8,312.13 598.0,312.26 597.2,313.47 596.4,315.22 595.6,315.13 594.8,312.95 594.0,312.21 593.2,313.67 592.4,312.10 591.6,310.89 590.8,310.53 590.0,309.79 589.2,309.66 588.4,313.51 587.6,311.24 586.8,312.45 586.0,310.06 585.2,309.79 584.4,309.69 583.6,312.26 582.8,310.66 582.0,311.69 581.2,311.82 580.4,312.90 579.6,312.96 578.8,313.40 578.0,316.52 577.2,315.87 576.4,314.97 575.6,314.49 574.8,314.23 574.0,314.29 573.2,314.28 572.4,314.98 571.6,314.19 570.8,314.50 570.0,315.21 569.2,314.85 568.4,314.73 567.6,315.14 566.8,315.26 566.0,316.30 565.2,315.24 564.4,316.37 563.6,315.70 562.8,318.28 562.0,317.19 561.2,316.64 560.4,317.15 559.6,317.39 558.8,318.01 558.0,317.21 557.2,317.36 556.4,318.07 555.6,317.79 554.8,318.54 554.0,322.13 553.2,319.05 552.4,318.23 551.6,317.91 550.8,318.24 550.0,317.96 549.2,318.44 548.4,318.91 547.6,319.58 546.8,319.65 546.0,318.17 545.2,323.41 544.4,317.89 543.6,317.73 542.8,318.68 542.0,317.23 541.2,317.36 540.4,316.55 539.6,316.58 538.8,316.70 538.0,316.12 537.2,317.55 536.4,319.02 535.6,319.64 534.8,316.92 534.0,317.10 533.2,317.97 532.4,317.88 531.6,317.72 530.8,318.84 530.0,318.47 529.2,321.25 528.4,319.15 527.6,318.96 526.8,320.14 526.0,319.38 525.2,318.88 524.4,319.54 523.6,318.99 522.8,319.49 522.0,319.51 521.2,319.49 520.4,319.85 519.6,319.09 518.8,320.03 518.0,317.72 517.2,318.18 516.4,318.07 515.6,318.56 514.8,315.69 514.0,316.37 513.2,315.78 512.4,314.61 511.6,315.71 510.8,314.14 510.0,313.24 509.2,313.76 508.4,313.02 507.6,313.37 506.8,314.19 506.0,314.25 505.2,316.72 504.4,314.97 503.6,315.45 502.8,316.63 502.0,321.89 501.2,317.35 500.4,317.71 499.6,317.30 498.8,317.95 498.0,318.66 497.2,319.81 496.4,321.50 495.6,319.41 494.8,319.75 494.0,320.19 493.2,320.28 492.4,322.09 491.6,322.08 490.8,322.19 490.0,321.81 489.2,320.61 488.4,323.62 487.6,324.08 486.8,322.06 486.0,322.86 485.2,322.77 484.4,322.89 483.6,324.07 482.8,324.51 482.0,324.32 481.2,324.60 480.4,324.72 479.6,324.59 478.8,325.19 478.0,324.22 477.2,324.70 476.4,323.98 475.6,325.73 474.8,324.05 474.0,325.49 473.2,325.91 472.4,325.28 471.6,325.13 470.8,325.81 470.0,326.51 469.2,329.13 468.4,326.42 467.6,327.33 466.8,328.07 466.0,329.12 465.2,327.95 464.4,329.16 463.6,329.52 462.8,329.67 462.0,329.35 461.2,331.89 460.4,330.56 459.6,330.52 458.8,329.79 458.0,330.43 457.2,330.95 456.4,331.16 455.6,333.52 454.8,335.29 454.0,334.60 453.2,334.85 452.4,333.97 451.6,334.42 450.8,335.49 450.0,335.03 449.2,334.26 448.4,333.32 447.6,336.23 446.8,332.59 446.0,333.06 445.2,331.22 444.4,331.12 443.6,331.48 442.8,330.87 442.0,331.94 441.2,330.82 440.4,330.88 439.6,330.05 438.8,330.50 438.0,330.23 437.2,330.76 436.4,330.98 435.6,330.93 434.8,330.60 434.0,331.27 433.2,331.62 432.4,330.38 431.6,333.17 430.8,331.33 430.0,329.87 429.2,330.51 428.4,329.50 427.6,328.83 426.8,328.45 426.0,329.02 425.2,328.08 424.4,328.36 423.6,329.50 422.8,327.38 422.0,326.12 421.2,325.75 420.4,324.89 419.6,324.77 418.8,324.04 418.0,324.00 417.2,325.20 416.4,322.61 415.6,323.42 414.8,321.85 414.0,321.91 413.2,323.02 412.4,322.82 411.6,322.32 410.8,321.43 410.0,322.28 409.2,321.32 408.4,321.77 407.6,320.93 406.8,325.47 406.0,322.24 405.2,320.14 404.4,320.27 403.6,320.58 402.8,322.01 402.0,320.51 401.2,318.83 400.4,318.64 399.6,318.01 398.8,318.21 398.0,317.61 397.2,318.26 396.4,317.53 395.6,318.32 394.8,316.65 394.0,316.39 393.2,318.75 392.4,316.94 391.6,317.38 390.8,317.30 390.0,315.28 389.2,315.58 388.4,314.90 387.6,314.65 386.8,314.79 386.0,315.28 385.2,314.99 384.4,317.02 383.6,312.75 382.8,312.45 382.0,312.85 381.2,311.42 380.4,312.09 379.6,310.54 378.8,310.34 378.0,313.30 377.2,309.89 376.4,309.98 375.6,309.75 374.8,311.62 374.0,309.64 373.2,309.63 372.4,309.95 371.6,311.84 370.8,308.78 370.0,309.22 369.2,308.12 368.4,308.30 367.6,307.55 366.8,307.64 366.0,309.30 365.2,309.59 364.4,307.80 363.6,308.00 362.8,309.84 362.0,308.36 361.2,309.43 360.4,308.83 359.6,309.56 358.8,309.56 358.0,311.19 357.2,312.17 356.4,311.28 355.6,310.88 354.8,313.06 354.0,312.44 353.2,312.25 352.4,312.08 351.6,313.28 350.8,311.66 350.0,311.92 349.2,311.54 348.4,311.27 347.6,310.42 346.8,310.03 346.0,310.73 345.2,310.95 344.4,310.69 343.6,312.30 342.8,311.45 342.0,312.59 341.2,311.64 340.4,311.86 339.6,313.89 338.8,313.15 338.0,314.59 337.2,314.54 336.4,317.75 335.6,316.48 334.8,316.34 334.0,317.80 333.2,318.84 332.4,322.55 331.6,318.74 330.8,319.68 330.0,319.94 329.2,319.81 328.4,322.42 327.6,321.02 326.8,324.35 326.0,321.68 325.2,322.72 324.4,323.15 323.6,324.12 322.8,322.87 322.0,325.46 321.2,325.69 320.4,324.76 319.6,323.49 318.8,324.20 318.0,323.66 317.2,324.52 316.4,323.65 315.6,325.65 314.8,322.82 314.0,322.28 313.2,326.63 312.4,322.79 311.6,322.09 310.8,322.10 310.0,321.47 309.2,321.45 308.4,323.69 307.6,321.23 306.8,324.25 306.0,322.26 305.2,324.11 304.4,321.55 303.6,322.26 302.8,323.83 302.0,323.40 301.2,323.56 300.4,321.98 299.6,323.50 298.8,323.64 298.0,325.08 297.2,323.72 296.4,324.89 295.6,323.69 294.8,324.13 294.0,327.43 293.2,324.69 292.4,324.69 291.6,328.48 290.8,325.26 290.0,326.01 289.2,326.11 288.4,326.50 287.6,326.28 286.8,326.89 286.0,327.53 285.2,326.95 284.4,328.64 283.6,328.20 282.8,329.30 282.0,331.01 281.2,329.49 280.4,330.51 279.6,330.62 278.8,330.01 278.0,329.78 277.2,328.91 276.4,329.38 275.6,327.67 274.8,329.18 274.0,326.59 273.2,326.34 272.4,326.52 271.6,325.31 270.8,325.01 270.0,325.20 269.2,325.92 268.4,325.53 267.6,326.88 266.8,325.83 266.0,326.80 265.2,326.05 264.4,326.98 263.6,326.36 262.8,325.91 262.0,326.03 261.2,326.82 260.4,325.92 259.6,325.50 258.8,326.52 258.0,326.39 257.2,325.37 256.4,325.62 255.6,325.69 254.8,325.82 254.0,326.76 253.2,325.97 252.4,325.79 251.6,326.08 250.8,325.93 250.0,326.04 249.2,327.96 248.4,326.92 247.6,325.83 246.8,326.32 246.0,326.94 245.2,328.15 244.4,326.60 243.6,326.86 242.8,327.34 242.0,327.15 241.2,330.93 240.4,328.96 239.6,327.89 238.8,329.56 238.0,328.49 237.2,329.14 236.4,330.28 235.6,329.69 234.8,330.42 234.0,330.05 233.2,335.37 232.4,330.89 231.6,330.99 230.8,331.84 230.0,333.02 229.2,332.40 228.4,333.64 227.6,332.45 226.8,331.89 226.0,332.08 225.2,333.05 224.4,332.24 223.6,333.80 222.8,333.10 222.0,332.75 221.2,333.62 220.4,332.75 219.6,332.95 218.8,334.79 218.0,335.40 217.2,334.20 216.4,333.66 215.6,334.12 214.8,335.55 214.0,333.86 213.2,334.98 212.4,334.58 211.6,334.71 210.8,336.24 210.0,334.64 209.2,336.56 208.4,335.07 207.6,336.62 206.8,335.97 206.0,335.58 205.2,335.28 204.4,334.82 203.6,335.14 202.8,335.50 202.0,335.41 201.2,334.40 200.4,334.91 199.6,335.35 198.8,335.88 198.0,334.58 197.2,336.91 196.4,335.27 195.6,335.99 194.8,337.36 194.0,335.72 193.2,337.72 192.4,336.07 191.6,336.50 190.8,336.51 190.0,336.95 189.2,339.13 188.4,337.64 187.6,337.70 186.8,340.36 186.0,338.22 185.2,338.25 184.4,339.14 183.6,341.13 182.8,339.29 182.0,339.82 181.2,339.79 180.4,341.10 179.6,341.18 178.8,340.87 178.0,343.18 177.2,342.37 176.4,341.78 175.6,342.36 174.8,343.41 174.0,342.95 173.2,346.18 172.4,344.32 171.6,346.65 170.8,347.07 170.0,345.92 169.2,347.49 168.4,347.27 167.6,346.98 166.8,347.74 166.0,349.15 165.2,350.33 164.4,350.25 163.6,349.57 162.8,350.74 162.0,350.35 161.2,352.42 160.4,352.76 159.6,351.91 158.8,352.21 158.0,353.18 157.2,353.48 156.4,354.07 155.6,354.21 154.8,355.27 154.0,357.32 153.2,358.01 152.4,356.35 151.6,356.49 150.8,356.64 150.0,356.82 149.2,358.20 148.4,358.22 147.6,358.60 146.8,361.79 146.0,360.00 145.2,361.40 144.4,361.65 143.6,361.78 142.8,362.87 142.0,363.21 141.2,365.50 140.4,365.91 139.6,368.69 138.8,368.20 138.0,369.53 137.2,371.97 136.4,372.20 135.6,373.40 134.8,375.18 134.0,374.06 133.2,374.14 132.4,374.53 131.6,376.74 130.8,375.77 130.0,376.79 129.2,376.54 128.4,376.76 127.6,378.09 126.8,378.53 126.0,380.18 125.2,379.15 124.4,379.64 123.6,380.14 122.8,380.23 122.0,380.49 121.2,380.95 120.4,381.08 119.6,381.93 118.8,383.05 118.0,385.34 117.2,384.20 116.4,384.15 115.6,385.29 114.8,384.72 114.0,386.53 113.2,388.31 112.4,385.50 111.6,385.89 110.8,387.30 110.0,387.27 109.2,387.19 108.4,388.53 107.6,389.57 106.8,390.73 106.0,392.06 105.2,393.87 104.4,395.00 103.6,397.33 102.8,397.84 102.0,399.03 101.2,402.35 100.4,404.79 99.6,405.93 98.8,408.07 98.0,411.51 97.2,411.59 96.4,413.98 95.6,417.33 94.8,424.83 94.0,424.42 93.2,428.38 92.4,431.53 91.6,436.09 90.8,440.41 90.0,445.11 89.2,450.29 88.4,457.33 87.6,461.40 86.8,464.96 86.0,469.99 85.2,473.39 84.4,480.40 83.6,482.66 82.8,483.31 82.0,486.49 81.2,489.36 80.4,492.57 79.6,495.42 78.8,499.53 78.0,501.67 77.2,503.76 76.4,506.29 75.6,508.92 74.8,511.66" fill="#000"/>
<polyline points="74.80,507.50 79.00,494.00 84.20,474.60 88.10,455.00 92.10,429.40 96.50,409.80 100.40,400.00 102.40,394.40 107.00,387.00 109.70,383.00 117.00,380.50 120.00,377.80 124.40,376.20 128.20,373.30 136.40,368.80 141.30,360.30 148.60,354.10 156.80,350.00 165.00,345.10 173.10,340.20 175.00,338.80 183.20,335.60 191.40,332.10 199.50,330.90 207.70,331.30 215.90,330.10 224.10,328.60 230.00,328.00 238.20,324.80 246.40,322.50 254.50,321.70 262.70,322.10 270.90,321.10 275.80,324.30 279.10,326.80 285.00,323.60 293.20,321.00 301.40,318.10 309.50,317.70 317.70,319.80 321.80,320.00 325.90,317.70 334.10,313.20 340.00,308.60 346.50,306.20 352.30,308.60 360.40,305.30 366.20,303.70 372.70,305.80 379.20,306.60 385.80,310.70 393.10,312.70 401.50,315.00 407.30,317.50 413.80,317.70 419.50,320.80 426.10,324.80 432.60,326.90 439.20,326.50 445.70,327.70 450.60,331.40 454.70,328.90 458.20,326.40 466.40,323.90 474.50,320.30 481.10,321.10 487.60,317.40 495.80,315.80 502.30,312.50 509.50,309.00 515.60,312.40 521.40,315.70 529.50,314.80 537.70,312.40 545.90,314.40 554.10,314.40 560.00,313.50 568.20,310.70 576.40,310.70 584.50,306.20 589.40,305.80 595.20,309.40 602.50,307.40 609.10,311.10 614.50,310.00 620.20,312.90 625.10,317.00 632.40,313.90 640.60,317.80 648.80,317.00 657.00,319.80 665.00,319.90 673.20,320.30 677.30,319.10 682.20,316.70 689.50,318.30 693.60,322.40 697.70,325.70 702.60,326.50 706.70,324.00 708.30,323.50 709.40,340.00 713.30,379.20 717.20,413.00 717.60,414.00" fill="none" stroke="#000" stroke-width="2.3" stroke-linejoin="round"/>
<polyline points="74.8,507.5 79.3,494 84.5,474.4 88.4,455 92.3,429.4 96.7,409.8 100.4,400" fill="none" stroke="#000" stroke-width="3.1" stroke-linejoin="round"/>
<path d="M73.8,508 L76.3,496.5 L78.2,499.5 Z M113.2,378 L114.1,369.2 L115.2,378 Z" fill="#000" stroke="#000" stroke-width="0.6"/>
</svg>
</body></html>
